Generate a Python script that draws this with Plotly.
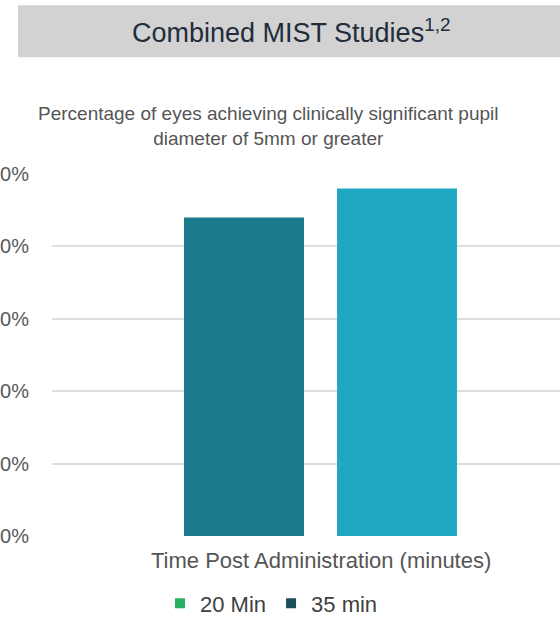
import plotly.graph_objects as go

# Data
category = ["Combined"]
series_names = ["20 Min", "35 min"]
values_20 = [88]
values_35 = [96]
y_ticks = [0, 20, 40, 60, 80, 100]
y_tick_text = ["0%", "20%", "40%", "60%", "80%", "100%"]

bar_colors = ["#1b7b8c", "#20a8c2"]
legend_colors = ["#27b064", "#1d4f5b"]

FONT = "Liberation Sans, Arial, sans-serif"

W, H = 560, 617
L, R, T, B = 52, 0, 174, 80.5
plot_h = H - T - B
plot_w = W - L - R


def py(p):
    """pixel row -> paper y"""
    return (H - B - p) / plot_h


def px(p):
    """pixel column -> paper x"""
    return (p - L) / plot_w


fig = go.Figure()

fig.add_trace(go.Bar(x=category, y=values_20, name=series_names[0],
                     marker=dict(color=bar_colors[0], line=dict(width=0)),
                     showlegend=False))
fig.add_trace(go.Bar(x=category, y=values_35, name=series_names[1],
                     marker=dict(color=bar_colors[1], line=dict(width=0)),
                     showlegend=False))

# legend swatches
for name, col in zip(series_names, legend_colors):
    fig.add_trace(go.Scatter(x=[None], y=[None], mode="markers", name=name,
                             marker=dict(symbol="square", size=10, color=col)))

# category centre placed at pixel 320.5
unit_px = 510.0
R_units = plot_w / unit_px
r0 = -px(320.5) * R_units
r1 = r0 + R_units

fig.update_layout(
    width=W, height=H,
    margin=dict(l=L, r=R, t=T, b=B, autoexpand=False),
    paper_bgcolor="white", plot_bgcolor="white",
    template="none",
    barmode="group", bargap=0.4, bargroupgap=0.216,
    font=dict(family=FONT, color="#595959"),
    xaxis=dict(range=[r0, r1], showticklabels=False, showgrid=False,
               zeroline=False, showline=False, ticks="", automargin=False),
    yaxis=dict(range=[0, 100], tickvals=y_ticks, ticktext=y_tick_text,
               showgrid=True, gridcolor="#dedede", gridwidth=1.5,
               zeroline=False, showline=False, ticks="", automargin=False,
               ticklabelstandoff=22,
               tickfont=dict(family=FONT, size=20, color="#595959")),
    legend=dict(orientation="h", x=px(160), xanchor="left",
                y=py(604), yanchor="middle", bgcolor="rgba(0,0,0,0)",
                font=dict(family=FONT, size=22, color="#404040"),
                itemsizing="trace", itemwidth=30, tracegroupgap=0),
    shapes=[dict(type="rect", xref="paper", yref="paper",
                 x0=px(18), x1=px(580), y0=py(57), y1=py(5),
                 fillcolor="#d2d2d2", line=dict(width=0), layer="below")],
    annotations=[
        dict(text="Combined MIST Studies<sup>1,2</sup>", xref="paper", yref="paper",
             x=px(291), y=py(31), xanchor="center", yanchor="middle",
             showarrow=False, font=dict(family=FONT, size=27, color="#222d3c")),
        dict(text="Percentage of eyes achieving clinically significant pupil<br>diameter of 5mm or greater",
             xref="paper", yref="paper", x=px(268), y=py(126),
             xanchor="center", yanchor="middle", showarrow=False,
             font=dict(family=FONT, size=19, color="#555555")),
        dict(text="Time Post Administration (minutes)", xref="paper", yref="paper",
             x=px(321), y=py(561), xanchor="center", yanchor="middle",
             showarrow=False, font=dict(family=FONT, size=22, color="#555555")),
    ],
)

fig.write_html("out.html")
